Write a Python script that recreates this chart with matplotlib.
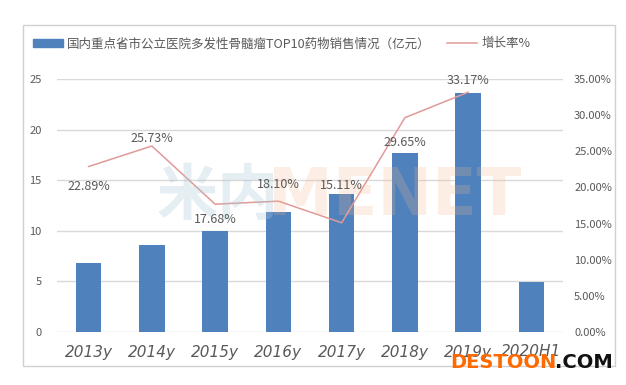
import matplotlib.pyplot as plt
from matplotlib.patches import Rectangle
from matplotlib.lines import Line2D

plt.rcParams['font.family'] = ['Noto Sans CJK SC', 'DejaVu Sans']

# --- Data ---
categories = ['2013y', '2014y', '2015y', '2016y', '2017y', '2018y', '2019y', '2020H1']
sales      = [6.8, 8.6, 10.0, 11.9, 13.6, 17.7, 23.6, 4.9]
growth     = [22.89, 25.73, 17.68, 18.10, 15.11, 29.65, 33.17]
# label offset in points: negative = below the point
label_dy   = [-9.5, 0.5, -6, 7, 22, -13, 3.5]

BAR_C  = '#4f81bd'
LINE_C = '#e09a98'
TXT_C  = '#595959'
GRID_C = '#d9d9d9'

fig = plt.figure(figsize=(6.26, 3.85), dpi=100, facecolor='white')

# chart frame
fig.patches.append(Rectangle((23 / 626, 1 - 366 / 385), 592 / 626, 341 / 385,
                             transform=fig.transFigure, fill=False,
                             edgecolor='#d0d0d0', linewidth=1))

ax = fig.add_axes([57 / 626, 1 - 332 / 385, 506 / 626, 253 / 385])
ax2 = ax.twinx()

x = list(range(len(categories)))
ax.bar(x, sales, width=0.4, color=BAR_C, zorder=3)
ax.set_ylim(0, 25)
ax.set_xlim(-0.5, len(categories) - 0.5)
ax.set_yticks([0, 5, 10, 15, 20, 25])
ax.yaxis.grid(True, color=GRID_C, linewidth=1)
ax.set_axisbelow(True)
ax.set_xticks(x)
ax.set_xticklabels(categories, fontstyle='italic', fontsize=11, color=TXT_C,
                   family='DejaVu Sans')
ax.tick_params(axis='x', length=0, pad=9)
ax.tick_params(axis='y', length=0, labelsize=8, labelcolor=TXT_C, pad=11)
for sp in ax.spines.values():
    sp.set_visible(False)

xl = x[:len(growth)]
ax2.plot(xl, growth, color=LINE_C, linewidth=1.1, zorder=4)
ax2.set_ylim(0, 35)
ax2.set_yticks([0, 5, 10, 15, 20, 25, 30, 35])
ax2.set_yticklabels([f'{v:.2f}%' for v in [0, 5, 10, 15, 20, 25, 30, 35]])
ax2.tick_params(axis='y', length=0, labelsize=8, labelcolor=TXT_C, pad=8)
for sp in ax2.spines.values():
    sp.set_visible(False)

for xi, g, dy in zip(xl, growth, label_dy):
    ax2.annotate(f'{g:.2f}%', (xi, g), xytext=(0, dy), textcoords='offset points',
                 ha='center', va='bottom' if dy > 0 else 'top',
                 fontsize=9, color=TXT_C, zorder=6)

# faint watermark over the plot
ax2.text(157 / 626, 1 - 197 / 385, '米内', transform=fig.transFigure, fontsize=44,
         fontweight='bold', color='#a9cbd8', alpha=0.3, va='center', ha='left', zorder=5)
ax2.text(268 / 626, 1 - 197 / 385, 'MENET', transform=fig.transFigure, fontsize=47,
         fontweight='bold', color='#f7b58c', alpha=0.22, va='center', ha='left',
         zorder=5, family='DejaVu Sans')

# legend
handles = [Rectangle((0, 0), 1, 1, color=BAR_C),
           Line2D([0], [0], color=LINE_C, linewidth=1.1)]
fig.legend(handles, ['国内重点省市公立医院多发性骨髓瘤TOP10药物销售情况（亿元）', '增长率%'],
           loc='center left', bbox_to_anchor=(33 / 626, 1 - 44 / 385), ncol=2,
           frameon=False, fontsize=9, labelcolor=TXT_C, handlelength=2.4,
           handleheight=0.6, columnspacing=1.3, handletextpad=0.35,
           borderpad=0, borderaxespad=0)

# site stamp
fig.text(557 / 626, 1 - 362 / 385, 'DESTOON', fontsize=14, fontweight='bold',
         color='#ff6a00', va='center', ha='right', family='DejaVu Sans')
fig.text(613 / 626, 1 - 362 / 385, '.COM', fontsize=14, fontweight='bold',
         color='#111111', va='center', ha='right', family='DejaVu Sans')

plt.savefig('out.png', dpi=100, facecolor='white')
plt.close()
